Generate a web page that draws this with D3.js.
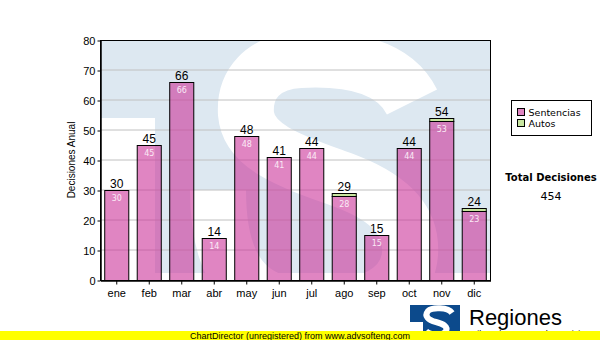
<!DOCTYPE html>
<html>
<head>
<meta charset="utf-8">
<script src="https://cdn.jsdelivr.net/npm/d3@7"></script>
<style>
  body { margin: 0; background: #fff; }
  svg { display: block; }
</style>
</head>
<body>
<svg id="chart" width="600" height="340"></svg>
<script>
const months = ["ene", "feb", "mar", "abr", "may", "jun", "jul", "ago", "sep", "oct", "nov", "dic"];
const sentencias = [30, 45, 66, 14, 48, 41, 44, 28, 15, 44, 53, 23];
const autos = [0, 0, 0, 0, 0, 0, 0, 1, 0, 0, 1, 1];
const yTicks = [0, 10, 20, 30, 40, 50, 60, 70, 80];
const seriesNames = ["Sentencias", "Autos"];

const svg = d3.select("#chart"),
      margin = {top: 40, right: 110, bottom: 60, left: 100},
      width = 600 - margin.left - margin.right,
      height = 340 - margin.top - margin.bottom;

const pink = "#cc3399", green = "#c8e6a0";

const chart = svg.append("g")
                 .attr("transform", `translate(${margin.left},${margin.top})`);

const x = d3.scaleBand()
            .domain(months)
            .range([0, width])
            .paddingInner(0.26)
            .paddingOuter(0.13);

const y = d3.scaleLinear()
            .domain([0, 80])
            .range([height, 0]);

// fond : logo en filigrane
svg.append("clipPath").attr("id", "plotclip")
   .append("rect").attr("width", width).attr("height", height);

const wm = chart.append("g").attr("clip-path", "url(#plotclip)");
wm.append("path")
  .attr("d", `M0,0H${width}V${height - 7}H55V78H0Z`)
  .attr("fill", "#dde8f1");
// le "S" blanc, en coordonnées du graphique
wm.append("path")
  .attr("d", "M312,62 C292,22 240,18 200,20 C162,22 144,45 146,74 " +
             "C149,110 200,124 248,142 C294,160 312,184 310,214 " +
             "C307,254 264,270 212,268 C160,266 118,245 118,150")
  .attr("fill", "none")
  .attr("stroke", "#fff")
  .attr("stroke-width", 56)
  .attr("stroke-linecap", "butt");

// grille
chart.append("g")
     .selectAll("line")
     .data(yTicks.filter(d => d > 0 && d < 80))
     .join("line")
     .attr("x1", 0).attr("x2", width)
     .attr("y1", d => y(d)).attr("y2", d => y(d))
     .attr("stroke", "#c0c0c0");

// barres empilées
const stack = months.map((m, i) => ({
    month: m,
    segs: [
        {key: seriesNames[0], start: 0, end: sentencias[i]},
        {key: seriesNames[1], start: sentencias[i], end: sentencias[i] + autos[i]}
    ],
    total: sentencias[i] + autos[i]
}));

stack.forEach(d => {
    d.segs.filter(s => s.end > s.start).forEach(s => {
        chart.append("rect")
             .attr("x", x(d.month) + 0.5)
             .attr("y", y(s.end) + 0.5)
             .attr("width", x.bandwidth())
             .attr("height", y(s.start) - y(s.end))
             .attr("fill", s.key === "Autos" ? green : pink)
             .attr("fill-opacity", s.key === "Autos" ? 1 : 0.6)
             .attr("stroke", "#000");
    });
    chart.append("text")
         .attr("x", x(d.month) + x.bandwidth() / 2 + 0.5)
         .attr("y", y(d.total) - 2)
         .attr("text-anchor", "middle")
         .style("font-family", "Liberation Sans, Arial")
         .style("font-size", "12px")
         .attr("fill", "#000")
         .text(d.total);
    chart.append("text")
         .attr("x", x(d.month) + x.bandwidth() / 2 + 0.5)
         .attr("y", y(d.segs[0].end) + 11)
         .attr("text-anchor", "middle")
         .style("font-family", "DejaVu Sans")
         .style("font-size", "8px")
         .attr("fill", "#fbeaf6")
         .text(d.segs[0].end);
});

// cadre
chart.append("rect")
     .attr("x", 0.5).attr("y", 0.5)
     .attr("width", width).attr("height", height)
     .attr("fill", "none")
     .attr("stroke", "#000");

// axes
const xAxis = chart.append("g")
     .attr("transform", `translate(0.5,${height + 0.5})`)
     .call(d3.axisBottom(x).tickSize(4).tickSizeOuter(0));
xAxis.select(".domain").attr("stroke-width", 1.5);
xAxis.selectAll("text")
     .attr("dy", "0.9em")
     .style("font-family", "Liberation Sans, Arial")
     .style("font-size", "11px")
     .attr("fill", "#000");

const yAxis = chart.append("g")
     .attr("transform", "translate(0.5,0.5)")
     .call(d3.axisLeft(y).tickValues(yTicks).tickSize(3).tickSizeOuter(0));
yAxis.select(".domain").attr("stroke-width", 1.5);
yAxis.selectAll("text")
     .attr("x", -5)
     .style("font-family", "Liberation Sans, Arial")
     .style("font-size", "11px")
     .attr("fill", "#000");

svg.append("text")
   .attr("transform", `translate(75,${margin.top + height / 2}) rotate(-90)`)
   .attr("text-anchor", "middle")
   .style("font-family", "Liberation Sans, Arial")
   .style("font-size", "10px")
   .text("Decisiones Anual");

// légende
const legend = svg.append("g").attr("transform", "translate(511.5,100.5)");
legend.append("rect")
      .attr("width", 80).attr("height", 35)
      .attr("fill", "#fff").attr("stroke", "#000");
seriesNames.forEach((n, i) => {
    legend.append("rect")
          .attr("x", 6).attr("y", 8 + i * 11)
          .attr("width", 7).attr("height", 7)
          .attr("fill", i === 0 ? "#e085c2" : green)
          .attr("stroke", "#000");
    legend.append("text")
          .attr("x", 17).attr("y", 15 + i * 11)
          .style("font-family", "DejaVu Sans")
          .style("font-size", "9.5px")
          .text(n);
});

svg.append("text")
   .attr("x", 551).attr("y", 181)
   .attr("text-anchor", "middle")
   .style("font-family", "DejaVu Sans")
   .style("font-weight", "bold")
   .style("font-size", "10px")
   .text("Total Decisiones");
svg.append("text")
   .attr("x", 551).attr("y", 200)
   .attr("text-anchor", "middle")
   .style("font-family", "DejaVu Sans")
   .style("font-size", "11px")
   .text(d3.sum(sentencias) + d3.sum(autos));

// logo en bas
const logo = svg.append("g");
logo.append("path")
    .attr("d", "M410,305H460V340H423V322H410Z")
    .attr("fill", "#0c4a8c");
logo.append("path")
    .attr("d", "M452,313 C448,307 432,307 428,311 C424,316 428,320 436,322 C444,324 448,327 446,331 C443,336 430,335 426,331")
    .attr("fill", "none")
    .attr("stroke", "#fff")
    .attr("stroke-width", 6);
logo.append("text")
    .attr("x", 469).attr("y", 325)
    .style("font-family", "Liberation Sans, Arial")
    .style("font-size", "22px")
    .text("Regiones");
logo.append("text")
    .attr("x", 469).attr("y", 337)
    .style("font-family", "Liberation Sans, Arial")
    .style("font-size", "9px")
    .text("Tribunal Supremo de Justicia");

// bandeau ChartDirector
svg.append("rect")
   .attr("x", 0).attr("y", 331)
   .attr("width", 600).attr("height", 9)
   .attr("fill", "#ffff00");
svg.append("text")
   .attr("x", 300).attr("y", 338.5)
   .attr("text-anchor", "middle")
   .style("font-family", "Liberation Sans, Arial")
   .style("font-size", "9px")
   .text("ChartDirector (unregistered) from www.advsofteng.com");
</script>
</body>
</html>
